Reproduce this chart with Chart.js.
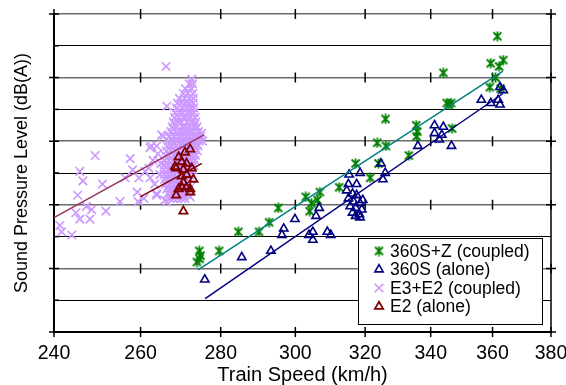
<!DOCTYPE html>
<html>
<head>
<meta charset="utf-8">
<script src="https://cdn.jsdelivr.net/npm/chart.js@4.4.0/dist/chart.umd.min.js"></script>
<style>
  html, body { margin: 0; padding: 0; background: #fff; }
  #chart { display: block; }
</style>
</head>
<body>
<canvas id="chart" width="566" height="385"></canvas>
<script>
// axis ticks
const speedTicks = [240, 260, 280, 300, 320, 340, 360, 380];
const levelTicks = [80, 82, 84, 86, 88, 90, 92, 94, 96, 98, 100];

// [speed km/h, level dB(A)]
const coupled360 = [
  [274.5, 85.1], [274.8, 84.8], [273.9, 84.4], [274.6, 84.6], [279.6, 85.1], [284.6, 86.3],
  [290.1, 86.3], [292.8, 86.9], [295.3, 87.8], [302.9, 88.5], [304.5, 88.1], [304.0, 87.6],
  [306.2, 88.3], [306.9, 88.8], [312.4, 89.1], [317.2, 90.6], [321.5, 89.7], [324.0, 90.6],
  [323.6, 91.9], [326.2, 91.7], [333.2, 91.1], [326.1, 93.4], [335.5, 93.0], [335.8, 92.6],
  [335.6, 92.3], [346.8, 92.8], [344.0, 96.3], [345.1, 94.4], [345.8, 94.3], [346.5, 94.4],
  [361.6, 98.6], [363.6, 97.1], [359.4, 96.9], [362.2, 96.7], [361.0, 96.0], [359.1, 95.4],
  [362.7, 95.3]
];
const alone360 = [
  [275.9, 83.3], [285.5, 84.7], [293.3, 85.1], [296.3, 86.1], [296.8, 86.5], [299.9, 87.1],
  [303.8, 86.1], [304.9, 86.3], [304.9, 85.8], [309.0, 86.3], [310.0, 86.1], [305.8, 87.3],
  [306.7, 87.8], [315.1, 89.3], [318.5, 90.0], [315.3, 89.9], [317.5, 89.3], [324.7, 90.6],
  [326.0, 90.0], [325.3, 89.6], [316.3, 88.7], [317.5, 88.6], [316.6, 88.2], [318.5, 88.1],
  [315.6, 87.9], [317.2, 87.8], [319.0, 87.7], [316.3, 87.5], [318.3, 87.4], [317.2, 87.3],
  [318.5, 87.2], [315.1, 88.4], [319.3, 88.3], [314.6, 88.9], [336.0, 91.7], [341.2, 93.0],
  [341.2, 92.5], [344.0, 92.9], [343.5, 92.4], [342.7, 92.1], [346.6, 91.7], [356.3, 94.6],
  [359.4, 94.4], [361.9, 94.6], [362.5, 94.3], [362.5, 95.4], [363.6, 95.2]
];
// E3+E2: the dense block near 266-275 km/h plus the scattered points
const coupledE3E2 = [
  [272.6, 95.9], [272.0, 95.6], [272.8, 95.6], [271.0, 95.3], [272.5, 95.3], [270.5, 95.0],
  [271.6, 95.0], [272.9, 95.0], [269.5, 94.7], [270.8, 94.7], [272.0, 94.7], [273.0, 94.7],
  [269.0, 94.4], [270.0, 94.4], [271.0, 94.4], [271.9, 94.4], [272.9, 94.4], [268.8, 94.1],
  [270.2, 94.1], [271.3, 94.1], [272.3, 94.1], [273.1, 94.1], [268.5, 93.8], [269.6, 93.8],
  [270.4, 93.8], [271.5, 93.8], [272.4, 93.8], [273.2, 93.8], [268.3, 93.5], [269.4, 93.5],
  [270.6, 93.5], [271.2, 93.5], [272.2, 93.5], [273.4, 93.5], [268.0, 93.2], [269.1, 93.2],
  [270.0, 93.2], [271.4, 93.2], [272.7, 93.2], [273.6, 93.2], [267.7, 92.9], [268.8, 92.9],
  [270.3, 92.9], [271.0, 92.9], [272.0, 92.9], [273.1, 92.9], [274.0, 92.9], [267.4, 92.6],
  [268.6, 92.6], [269.7, 92.6], [270.6, 92.6], [271.4, 92.6], [272.3, 92.6], [273.2, 92.6],
  [274.3, 92.6], [267.0, 92.3], [268.2, 92.3], [269.4, 92.3], [270.3, 92.3], [271.2, 92.3],
  [272.1, 92.3], [273.0, 92.3], [273.9, 92.3], [274.8, 92.3], [266.8, 92.0], [267.8, 92.0],
  [268.9, 92.0], [270.0, 92.0], [271.0, 92.0], [271.8, 92.0], [272.7, 92.0], [273.6, 92.0],
  [274.5, 92.0], [275.3, 92.0], [266.5, 91.7], [267.5, 91.7], [268.6, 91.7], [269.7, 91.7],
  [270.7, 91.7], [271.5, 91.7], [272.4, 91.7], [273.3, 91.7], [274.2, 91.7], [266.3, 91.4],
  [267.3, 91.4], [268.3, 91.4], [269.4, 91.4], [270.4, 91.4], [271.3, 91.4], [272.2, 91.4],
  [273.0, 91.4], [274.0, 91.4], [266.0, 91.1], [267.1, 91.1], [268.1, 91.1], [269.1, 91.1],
  [270.2, 91.1], [271.1, 91.1], [272.0, 91.1], [272.8, 91.1], [273.6, 91.1], [265.9, 90.8],
  [266.9, 90.8], [267.9, 90.8], [268.9, 90.8], [269.9, 90.8], [270.9, 90.8], [271.8, 90.8],
  [272.6, 90.8], [273.4, 90.8], [265.8, 90.5], [266.7, 90.5], [267.7, 90.5], [268.7, 90.5],
  [269.7, 90.5], [270.7, 90.5], [271.6, 90.5], [272.4, 90.5], [273.1, 90.5], [265.6, 90.2],
  [266.6, 90.2], [267.5, 90.2], [268.5, 90.2], [269.5, 90.2], [270.5, 90.2], [271.4, 90.2],
  [272.2, 90.2], [272.9, 90.2], [265.7, 89.9], [266.6, 89.9], [267.4, 89.9], [268.3, 89.9],
  [269.3, 89.9], [270.3, 89.9], [271.2, 89.9], [272.0, 89.9], [265.9, 89.6], [266.8, 89.6],
  [267.7, 89.6], [268.6, 89.6], [269.6, 89.6], [270.5, 89.6], [271.4, 89.6], [272.3, 89.6],
  [266.1, 89.3], [267.0, 89.3], [267.9, 89.3], [268.9, 89.3], [269.9, 89.3], [270.8, 89.3],
  [271.7, 89.3], [266.4, 89.0], [267.3, 89.0], [268.2, 89.0], [269.2, 89.0], [270.2, 89.0],
  [271.1, 89.0], [272.0, 89.0], [266.7, 88.7], [267.6, 88.7], [268.6, 88.7], [269.5, 88.7],
  [270.5, 88.7], [271.4, 88.7], [267.1, 88.4], [268.0, 88.4], [269.0, 88.4], [270.0, 88.4],
  [270.9, 88.4], [266.4, 88.2], [272.2, 88.5],
  [266.2, 96.7], [266.4, 94.2], [249.3, 91.1], [257.5, 90.9], [245.8, 90.1], [246.5, 89.5],
  [245.3, 88.6], [251.0, 89.3], [247.3, 87.9], [248.5, 87.7], [245.8, 87.1], [248.1, 87.1],
  [251.8, 87.6], [255.1, 88.2], [241.3, 86.7], [241.7, 86.3], [244.0, 86.1], [244.9, 87.5],
  [256.3, 89.7], [259.6, 89.7], [259.2, 88.8], [259.4, 88.2], [258.1, 90.2], [262.3, 91.6],
  [263.9, 91.7], [265.1, 92.4], [262.3, 89.7], [263.9, 88.6], [265.9, 88.3], [261.1, 90.1],
  [264.7, 89.9], [260.8, 88.4], [263.9, 88.7], [262.6, 91.7], [265.5, 92.3], [275.1, 92.5],
  [263.0, 90.8], [264.2, 91.2], [262.0, 90.3], [264.9, 90.6], [263.4, 89.3]
];
const aloneE2 = [
  [272.2, 91.5], [270.9, 91.3], [269.3, 91.0], [270.1, 90.7], [271.3, 90.6], [268.7, 90.3],
  [270.5, 90.2], [272.6, 90.3], [268.4, 90.4], [271.3, 89.9], [270.1, 89.8], [273.0, 89.6],
  [270.5, 89.4], [270.1, 89.1], [271.3, 89.1], [272.2, 89.0], [269.3, 89.0], [272.2, 88.8],
  [268.7, 88.6], [270.5, 87.6]
];

// trend line end points
const trendCoupled360 = [[274.2, 83.9], [363.5, 96.4]];
const trendAlone360 = [[276.0, 82.1], [363.5, 95.0]];
const trendCoupledE3E2 = [[240.0, 87.2], [275.7, 92.4]];
const trendAloneE2 = [[259.9, 88.5], [275.2, 90.6]];

const toXY = arr => arr.map(p => ({x: p[0], y: p[1]}));

// excel style star: x with a vertical bar
function starMarker(color) {
  const c = document.createElement('canvas');
  c.width = 11; c.height = 11;
  const g = c.getContext('2d');
  g.strokeStyle = color;
  g.lineWidth = 1.8;
  g.beginPath();
  g.moveTo(1.5, 1.5); g.lineTo(9.5, 9.5);
  g.moveTo(9.5, 1.5); g.lineTo(1.5, 9.5);
  g.moveTo(5.5, 0.5); g.lineTo(5.5, 10.5);
  g.stroke();
  return c;
}
const greenStar = starMarker('#008000');

function trend(data, color) {
  return {
    type: 'line', data: toXY(data), borderColor: color, borderWidth: 1.5,
    pointRadius: 0, fill: false, order: 0, inLegend: false
  };
}

// frame: right edge and the "+" tick marks
const frameMarks = {
  id: 'frameMarks',
  beforeDatasetsDraw(chart) {
    const {ctx, chartArea: a, scales: {x, y}} = chart;
    ctx.save();
    ctx.strokeStyle = '#000';
    ctx.lineWidth = 1.5;
    ctx.beginPath();
    ctx.moveTo(a.right, a.top); ctx.lineTo(a.right, a.bottom);
    ctx.stroke();
    levelTicks.forEach(v => {
      const py = y.getPixelForValue(v);
      const major = (v - 80) % 4 === 0;
      ctx.beginPath();
      ctx.moveTo(major ? a.left - 5 : a.left, py);
      ctx.lineTo(a.left + 5, py);
      if (major) {
        ctx.moveTo(a.right - 5, py); ctx.lineTo(a.right + 5, py);
        speedTicks.forEach(s => {
          const px = x.getPixelForValue(s);
          ctx.moveTo(px, py - 5); ctx.lineTo(px, py + 5);
        });
      }
      ctx.stroke();
    });
    ctx.restore();
  }
};

function drawMarker(ctx, ds, cx, cy) {
  ctx.save();
  ctx.strokeStyle = ds.borderColor;
  ctx.lineWidth = ds.borderWidth;
  const r = ds.pointRadius;
  ctx.beginPath();
  if (ds.pointStyle === 'triangle') {
    ctx.moveTo(cx, cy - r);
    ctx.lineTo(cx + r * 0.866, cy + r * 0.5);
    ctx.lineTo(cx - r * 0.866, cy + r * 0.5);
    ctx.closePath();
    ctx.stroke();
  } else if (ds.pointStyle === 'crossRot') {
    const d = r * 0.707;
    ctx.moveTo(cx - d, cy - d); ctx.lineTo(cx + d, cy + d);
    ctx.moveTo(cx + d, cy - d); ctx.lineTo(cx - d, cy + d);
    ctx.stroke();
  } else {
    ctx.drawImage(ds.pointStyle, cx - ds.pointStyle.width / 2, cy - ds.pointStyle.height / 2);
  }
  ctx.restore();
}

// legend box inside the plot, bottom right
const boxLegend = {
  id: 'boxLegend',
  afterDraw(chart) {
    const {ctx, chartArea: a} = chart;
    const left = a.right - 193, top = a.bottom - 94;
    ctx.save();
    ctx.fillStyle = '#fff';
    ctx.fillRect(left, top, 184, 86);
    ctx.strokeStyle = '#000';
    ctx.lineWidth = 1;
    ctx.strokeRect(left + 0.5, top + 0.5, 184, 86);
    const items = chart.data.datasets.filter(d => d.inLegend).sort((p, q) => p.legendPos - q.legendPos);
    ctx.font = "17.5px 'Liberation Sans', Arial, sans-serif";
    ctx.textBaseline = 'middle';
    ctx.fillStyle = '#000';
    items.forEach((ds, i) => {
      const cy = top + 13 + i * 18.5;
      drawMarker(ctx, ds, left + 21, cy);
      ctx.fillText(ds.label, left + 32, cy + 1);
    });
    ctx.restore();
  }
};

Chart.defaults.font.family = "'Liberation Sans', Arial, sans-serif";
Chart.defaults.color = '#000';

new Chart(document.getElementById('chart'), {
  type: 'scatter',
  data: {
    datasets: [
      trend(trendCoupled360, '#008080'),
      trend(trendAlone360, '#000080'),
      trend(trendCoupledE3E2, '#993366'),
      trend(trendAloneE2, '#800000'),
      {
        label: 'E2 (alone)', data: toXY(aloneE2), pointStyle: 'triangle', pointRadius: 4.8,
        borderColor: '#800000', backgroundColor: 'rgba(0,0,0,0)', borderWidth: 1.8,
        order: 1, inLegend: true, legendPos: 3
      },
      {
        label: 'E3+E2 (coupled)', data: toXY(coupledE3E2), pointStyle: 'crossRot', pointRadius: 6,
        borderColor: '#CC99FF', backgroundColor: '#CC99FF', borderWidth: 1.7,
        order: 2, inLegend: true, legendPos: 2
      },
      {
        label: '360S (alone)', data: toXY(alone360), pointStyle: 'triangle', pointRadius: 4.8,
        borderColor: '#000080', backgroundColor: 'rgba(0,0,0,0)', borderWidth: 1.6,
        order: 3, inLegend: true, legendPos: 1
      },
      {
        label: '360S+Z (coupled)', data: toXY(coupled360), pointStyle: greenStar, pointRadius: 5,
        borderColor: '#008000', backgroundColor: '#008000', borderWidth: 1.8,
        order: 4, inLegend: true, legendPos: 0
      }
    ]
  },
  options: {
    responsive: false,
    animation: false,
    devicePixelRatio: 1,
    layout: { padding: { left: 0, right: 15, top: 14, bottom: 0 } },
    plugins: { legend: { display: false }, tooltip: { enabled: false } },
    scales: {
      x: {
        type: 'logarithmic',
        min: 240, max: 380,
        afterBuildTicks: s => { s.ticks = speedTicks.map(v => ({value: v})); },
        afterFit: s => { s.height = 53; s.paddingLeft = 0; s.paddingRight = 0; },
        grid: { display: false, drawTicks: false },
        border: { display: true, color: '#000', width: 2 },
        ticks: {
          autoSkip: false, maxRotation: 0, padding: 12,
          font: { size: 19.5, lineHeight: 1 },
          callback: v => String(v)
        },
        title: {
          display: true, text: 'Train Speed (km/h)',
          font: { size: 20, lineHeight: 1 }, padding: { top: 0, bottom: 0 }
        }
      },
      y: {
        min: 80, max: 100,
        afterBuildTicks: s => { s.ticks = levelTicks.map(v => ({value: v})); },
        afterFit: s => { s.width = 54; },
        grid: {
          drawTicks: false,
          color: c => ((c.tick.value - 80) % 4 === 0 ? '#6a6a6a' : '#000'),
          lineWidth: c => ((c.tick.value - 80) % 4 === 0 ? 1.5 : 1)
        },
        border: { display: true, color: '#000', width: 2 },
        ticks: { display: false },
        title: {
          display: true, text: 'Sound Pressure Level (dB(A))',
          font: { size: 18, lineHeight: 1 }, padding: { top: 13, bottom: 0 }
        }
      }
    }
  },
  plugins: [frameMarks, boxLegend]
});
</script>
</body>
</html>
